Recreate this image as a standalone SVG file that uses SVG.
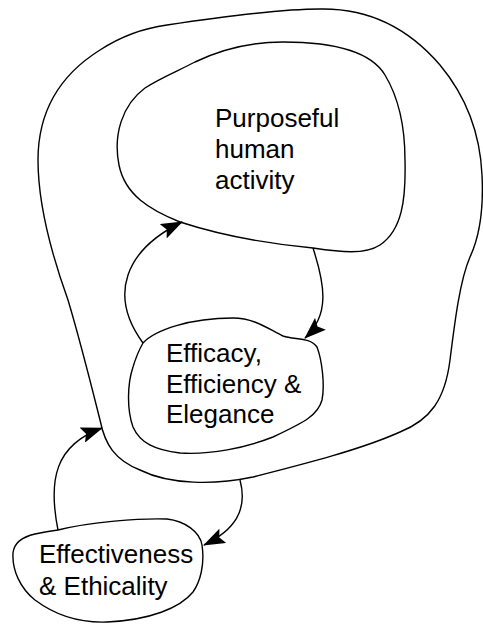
<svg xmlns="http://www.w3.org/2000/svg" width="483" height="624" viewBox="0 0 483 624">
<style>
.blob{fill:none;stroke:#000;stroke-width:1.4;stroke-linejoin:round}
.conn{fill:none;stroke:#000;stroke-width:1.4}
.lbl{font-family:"Liberation Sans",Arial,Helvetica,sans-serif;font-size:26px;fill:#000}
</style>
<defs>
<marker id="ah" viewBox="0 0 22 16" refX="21" refY="8" markerWidth="22" markerHeight="16" markerUnits="userSpaceOnUse" orient="auto">
<path d="M0,0 L22,8 L0,16 L4,8 Z" fill="#000"/>
</marker>
</defs>
<rect width="483" height="624" fill="#fff"/>
<g id="outer">
<path class="blob" d="M320,9 C370,8 410,30 440,65 C465,95 480,130 482,175 C484,215 478,240 470,257 C460,280 455,320 450,360 C445,400 430,420 400,432 C360,450 300,465 253,477 C215,485 170,485 140,470 C115,460 105,445 100,420 C90,380 80,340 68,300 C50,250 38,200 38,160 C38,110 60,75 100,50 C120,37 145,28 167,25 C220,17 280,9 320,9 Z"/>
</g>
<g id="purposeful">
<path class="blob" d="M283,42 C330,42 370,50 385,75 C400,100 405,130 405,160 C406,200 402,230 380,245 C365,255 340,252 313,248 C270,244 220,235 180,222 C150,210 125,195 119,165 C113,135 122,105 145,88 C160,78 180,70 195,62 C220,50 250,42 283,42 Z"/>
<text class="lbl"><tspan x="215" y="127">Purposeful</tspan><tspan x="215" y="158">human</tspan><tspan x="215" y="189">activity</tspan></text>
</g>
<g id="efficacy">
<path class="blob" d="M143,343 C155,330 190,318 233,318 C255,318 270,330 283,336 C295,340 310,337 317,347 C322,360 325,385 322,400 C318,415 305,422 273,437 C245,448 210,455 180,453 C155,450 140,443 133,427 C127,410 127,385 133,367 C136,357 139,350 143,343 Z"/>
<text class="lbl"><tspan x="166" y="362">Efficacy,</tspan><tspan x="166" y="393">Efficiency &amp;</tspan><tspan x="166" y="423">Elegance</tspan></text>
</g>
<g id="effectiveness">
<path class="blob" d="M58,530 C90,522 140,518 167,519 C185,521 200,532 202,545 C205,565 200,582 193,592 C180,608 150,620 107,622 C80,623 55,615 35,600 C20,588 12,570 13,553 C14,543 22,537 35,534 C44,532 50,531 58,530 Z"/>
<text class="lbl"><tspan x="39" y="563">Effectiveness</tspan><tspan x="39" y="595">&amp; Ethicality</tspan></text>
</g>
<g id="connectors">
<path class="conn" d="M143,343 C108,295 125,250 182,222" marker-end="url(#ah)"/>
<path class="conn" d="M313,248 C325,285 330,315 305,338" marker-end="url(#ah)"/>
<path class="conn" d="M58,530 C48,480 55,445 102,428" marker-end="url(#ah)"/>
<path class="conn" d="M240,480 C248,510 235,530 204,545" marker-end="url(#ah)"/>
</g>
</svg>
